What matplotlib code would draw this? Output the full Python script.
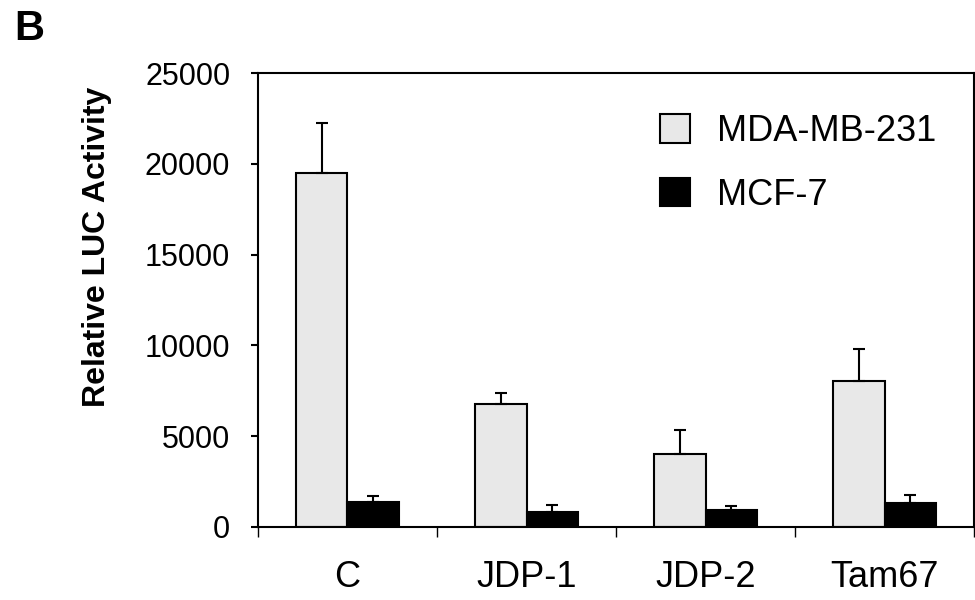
import matplotlib
matplotlib.use("Agg")
import matplotlib.pyplot as plt
import numpy as np

plt.rcParams['font.family'] = ['Liberation Sans', 'DejaVu Sans']

categories = ["C", "JDP-1", "JDP-2", "Tam67"]
mda = [19500, 6800, 4000, 8050]
mda_err = [2750, 600, 1350, 1750]
mcf = [1400, 850, 950, 1300]
mcf_err = [300, 380, 180, 480]

fig = plt.figure(figsize=(9.75, 6), dpi=100)
ax = fig.add_axes([0.2646, 0.1217, 0.7344, 0.7566])

x = np.arange(len(categories))
w = 0.29
err_kw = dict(ecolor="black", elinewidth=1.5, capsize=4.5, capthick=1.5)
ax.bar(x - w / 2, mda, w, color="#e8e8e8", edgecolor="black", linewidth=1.5,
       yerr=[np.zeros(4), mda_err], error_kw=err_kw, label="MDA-MB-231")
ax.bar(x + w / 2, mcf, w, color="black", edgecolor="black", linewidth=1.5,
       yerr=[np.zeros(4), mcf_err], error_kw=err_kw, label="MCF-7")

ax.set_xlim(-0.5, 3.5)
ax.set_ylim(0, 25000)
ax.set_yticks(np.arange(0, 25001, 5000))
ax.tick_params(axis="y", labelsize=22, length=5, width=1.5, pad=15)

# boundary ticks below the axis, labels in the middle of each group
ax.set_xticks(np.arange(-0.5, 3.6, 1))
ax.set_xticklabels([])
ax.tick_params(axis="x", which="major", length=7, width=1)
ax.set_xticks(x, minor=True)
ax.set_xticklabels(categories, minor=True)
ax.tick_params(axis="x", which="minor", length=0, labelsize=26, pad=24)

for s in ax.spines.values():
    s.set_linewidth(1.5)

ax.set_ylabel("Relative LUC Activity", fontsize=23, fontweight="bold", va="center")
ax.yaxis.set_label_coords(-0.225, 0.617)

ax.legend(loc="upper left", bbox_to_anchor=(0.561, 0.91), frameon=False, fontsize=26,
          handlelength=0.83, handleheight=0.83, handletextpad=0.75, labelspacing=0.8,
          borderpad=0, borderaxespad=0)

fig.text(0.015, 0.985, "B", fontsize=30, fontweight="bold", va="top", ha="left")

fig.savefig("out.png", dpi=100)
